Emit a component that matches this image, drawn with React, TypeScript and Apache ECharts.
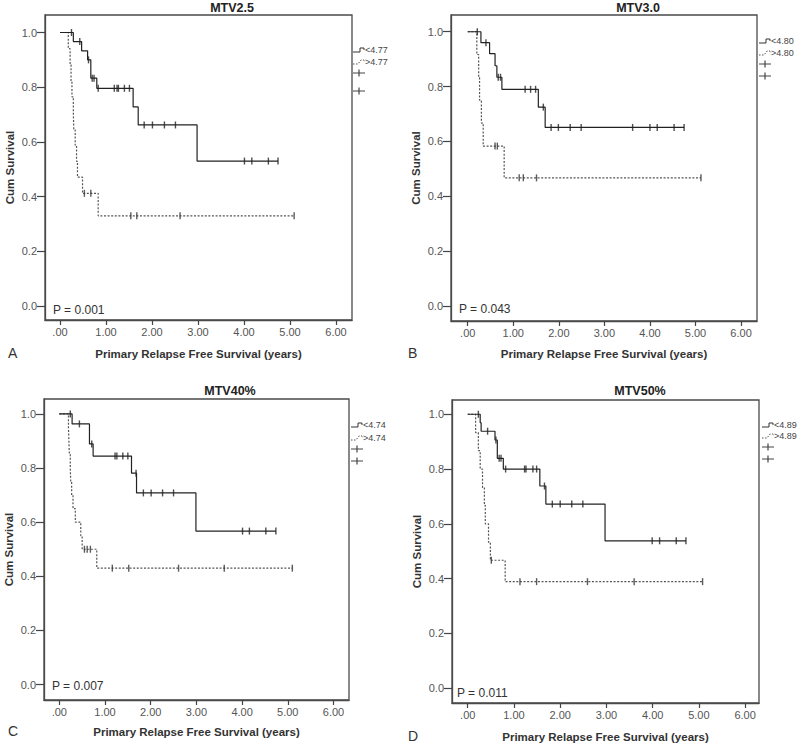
import React, { useEffect, useRef } from 'react';
import * as echarts from 'echarts';

// ---------- tick labels / texts ----------
const xTicks = [0, 1, 2, 3, 4, 5, 6];
const yTicks = [0, 0.2, 0.4, 0.6, 0.8, 1.0];
const panelTitles = ['MTV2.5', 'MTV3.0', 'MTV40%', 'MTV50%'];
const cutoffs = ['4.77', '4.80', '4.74', '4.89'];
const pValues = ['0.001', '0.043', '0.007', '0.011'];
const panelLetters = ['A', 'B', 'C', 'D'];
const xTitle = 'Primary Relapse Free Survival (years)';
const yTitle = 'Cum Survival';

// ---------- Panel A: MTV2.5 ----------
const aLowTimes = [0.29, 0.47, 0.60, 0.67, 0.80, 1.59, 1.70, 2.98];
const aLowSurv = [0.967, 0.933, 0.900, 0.833, 0.796, 0.728, 0.662, 0.530];
const aLowCens = [0.25, 0.43, 0.62, 0.70, 0.74, 0.83, 1.18, 1.24, 1.27, 1.40, 1.51, 1.83, 2.01, 2.27, 2.51, 4.01, 4.17, 4.53, 4.74];
const aHighTimes = [0.18, 0.22, 0.24, 0.26, 0.29, 0.30, 0.33, 0.36, 0.38, 0.49, 0.83];
const aHighSurv = [0.941, 0.882, 0.824, 0.765, 0.706, 0.647, 0.588, 0.529, 0.471, 0.412, 0.330];
const aHighCens = [0.53, 0.67, 1.54, 1.67, 2.61, 5.09];

// ---------- Panel B: MTV3.0 ----------
const bLowTimes = [0.29, 0.48, 0.60, 0.64, 0.75, 1.55, 1.70];
const bLowSurv = [0.960, 0.920, 0.876, 0.834, 0.790, 0.725, 0.651];
const bLowCens = [0.21, 0.40, 0.67, 0.72, 1.26, 1.38, 1.49, 1.66, 1.83, 1.99, 2.25, 2.49, 3.62, 4.00, 4.16, 4.53, 4.75];
const bHighTimes = [0.20, 0.24, 0.26, 0.30, 0.34, 0.80];
const bHighSurv = [0.917, 0.833, 0.750, 0.667, 0.583, 0.467];
const bHighCens = [0.60, 0.65, 1.13, 1.22, 1.51, 5.12];

// ---------- Panel C: MTV40% ----------
const cLowTimes = [0.28, 0.66, 0.74, 1.58, 1.69, 2.99];
const cLowSurv = [0.963, 0.889, 0.844, 0.781, 0.708, 0.567];
const cLowCens = [0.24, 0.44, 0.71, 1.22, 1.26, 1.39, 1.50, 1.68, 1.84, 2.01, 2.26, 2.50, 4.01, 4.16, 4.52, 4.74];
const cHighTimes = [0.20, 0.21, 0.22, 0.24, 0.25, 0.27, 0.30, 0.35, 0.47, 0.50, 0.82];
const cHighSurv = [0.95, 0.90, 0.85, 0.80, 0.75, 0.70, 0.65, 0.60, 0.55, 0.50, 0.43];
const cHighCens = [0.55, 0.61, 0.68, 1.16, 1.52, 2.61, 3.61, 5.10];

// ---------- Panel D: MTV50% ----------
const dLowTimes = [0.27, 0.29, 0.59, 0.64, 0.77, 1.56, 1.69, 2.97];
const dLowSurv = [0.969, 0.938, 0.906, 0.839, 0.800, 0.738, 0.672, 0.538];
const dLowCens = [0.23, 0.43, 0.61, 0.68, 0.72, 0.82, 1.23, 1.26, 1.41, 1.49, 1.66, 1.83, 2.00, 2.25, 2.49, 3.99, 4.15, 4.51, 4.72];
const dHighTimes = [0.17, 0.23, 0.27, 0.32, 0.36, 0.38, 0.45, 0.49, 0.81];
const dHighSurv = [0.933, 0.867, 0.800, 0.733, 0.667, 0.600, 0.533, 0.467, 0.389];
const dHighCens = [0.51, 1.13, 1.49, 2.59, 3.60, 5.08];

const lowGroups = [
  { times: aLowTimes, surv: aLowSurv, cens: aLowCens },
  { times: bLowTimes, surv: bLowSurv, cens: bLowCens },
  { times: cLowTimes, surv: cLowSurv, cens: cLowCens },
  { times: dLowTimes, surv: dLowSurv, cens: dLowCens },
];
const highGroups = [
  { times: aHighTimes, surv: aHighSurv, cens: aHighCens },
  { times: bHighTimes, surv: bHighSurv, cens: bHighCens },
  { times: cHighTimes, surv: cHighSurv, cens: cHighCens },
  { times: dHighTimes, surv: dHighSurv, cens: dHighCens },
];

// ---------- layout (positions only) ----------
const layout = [
  { left: 45, top: 15, width: 307, height: 305, xMin: -0.326, xMax: 6.348, yMin: -0.051, yMax: 1.064,
    titleX: 232, titleY: 1, legX: 353, legY: [50, 62, 73, 91], pX: 53, pY: 311, letX: 8, letY: 354, gap: 28 },
  { left: 451, top: 15, width: 306, height: 306, xMin: -0.367, xMax: 6.35, yMin: -0.055, yMax: 1.061,
    titleX: 638, titleY: 1, legX: 759, legY: [41, 53, 64, 76], pX: 459, pY: 310, letX: 408, letY: 354, gap: 27 },
  { left: 44, top: 399, width: 305, height: 301, xMin: -0.335, xMax: 6.34, yMin: -0.057, yMax: 1.055,
    titleX: 230, titleY: 384, legX: 351, legY: [425, 438, 449, 461], pX: 52, pY: 687, letX: 8, letY: 732, gap: 26 },
  { left: 452, top: 400, width: 307, height: 303, xMin: -0.34, xMax: 6.30, yMin: -0.054, yMax: 1.052,
    titleX: 640, titleY: 384, legX: 762, legY: [425, 436, 447, 459], pX: 457, pY: 694, letX: 408, letY: 737, gap: 28 },
];

const FONT = '"Liberation Sans", Arial, sans-serif';
const AXIS_COLOR = '#4a4a4a';

function survAt(times: number[], surv: number[], t: number) {
  let s = 1;
  for (let i = 0; i < times.length; i++) if (times[i] <= t) s = surv[i];
  return s;
}
function stepData(g: { times: number[]; surv: number[]; cens: number[] }) {
  const pts: number[][] = [[0, 1]];
  g.times.forEach((t, i) => pts.push([t, g.surv[i]]));
  const end = Math.max(...g.cens, ...g.times);
  pts.push([end, g.surv[g.surv.length - 1]]);
  return pts;
}
function censData(g: { times: number[]; surv: number[]; cens: number[] }) {
  return g.cens.map((t) => [t, survAt(g.times, g.surv, t)]);
}

function buildOption() {
  const grid: any[] = [];
  const xAxis: any[] = [];
  const yAxis: any[] = [];
  const series: any[] = [];
  const title: any[] = [];
  const graphic: any[] = [];

  layout.forEach((L, i) => {
    grid.push({ left: L.left, top: L.top, width: L.width, height: L.height, show: true,
      borderColor: AXIS_COLOR, borderWidth: 1.3, backgroundColor: 'transparent' });
    xAxis.push({
      type: 'value', gridIndex: i, min: L.xMin, max: L.xMax, position: 'bottom',
      axisLine: { show: true, onZero: false, lineStyle: { color: AXIS_COLOR, width: 1.3 } }, splitLine: { show: false },
      axisTick: { show: true, inside: false, customValues: xTicks, length: 5, lineStyle: { color: '#444', width: 1.2 } },
      axisLabel: { customValues: xTicks, margin: 6, fontSize: 11, color: '#555', fontFamily: FONT,
        formatter: (v: number) => (v === 0 ? '.00' : v.toFixed(2)) },
      name: xTitle, nameLocation: 'middle', nameGap: L.gap,
      nameTextStyle: { fontSize: 11.5, fontWeight: 'bold', color: '#333', fontFamily: FONT },
    });
    yAxis.push({
      type: 'value', gridIndex: i, min: L.yMin, max: L.yMax, position: 'left',
      axisLine: { show: true, onZero: false, lineStyle: { color: AXIS_COLOR, width: 1.3 } }, splitLine: { show: false },
      axisTick: { show: true, inside: false, customValues: yTicks, length: 8, lineStyle: { color: '#444', width: 1.2 } },
      axisLabel: { customValues: yTicks, margin: 8, fontSize: 11, color: '#555', fontFamily: FONT,
        formatter: (v: number) => v.toFixed(1) },
      name: yTitle, nameLocation: 'middle', nameGap: 29,
      nameTextStyle: { fontSize: 11.5, fontWeight: 'bold', color: '#333', fontFamily: FONT },
    });
    const low = lowGroups[i];
    const high = highGroups[i];
    series.push({
      type: 'line', name: '<' + cutoffs[i], xAxisIndex: i, yAxisIndex: i, step: 'end', symbol: 'none',
      data: stepData(low), lineStyle: { color: '#222', width: 1.2 }, z: 3,
    });
    series.push({
      type: 'line', name: '>' + cutoffs[i], xAxisIndex: i, yAxisIndex: i, step: 'end', symbol: 'none',
      data: stepData(high), lineStyle: { color: '#555', width: 1.2, type: [2, 1.6] }, z: 2,
    });
    series.push({
      type: 'scatter', name: '<' + cutoffs[i] + '-censored', xAxisIndex: i, yAxisIndex: i,
      symbol: 'rect', symbolSize: [1.4, 7], data: censData(low), itemStyle: { color: '#222' }, z: 4,
    });
    series.push({
      type: 'scatter', name: '>' + cutoffs[i] + '-censored', xAxisIndex: i, yAxisIndex: i,
      symbol: 'rect', symbolSize: [1.4, 7], data: censData(high), itemStyle: { color: '#333' }, z: 4,
    });

    title.push({ text: panelTitles[i], left: L.titleX, top: L.titleY, textAlign: 'center', padding: 0,
      textStyle: { fontSize: 12.5, fontWeight: 'bold', color: '#222', fontFamily: FONT } });

    // P value
    graphic.push({ type: 'text', left: L.pX, top: L.pY - 7,
      style: { text: 'P = ' + pValues[i], font: `12px ${FONT}`, fill: '#333' } });
    // panel letter
    graphic.push({ type: 'text', left: L.letX, top: L.letY - 8,
      style: { text: panelLetters[i], font: `14px ${FONT}`, fill: '#333' } });

    // legend
    const x0 = L.legX;
    const [y1, y2, y3, y4] = L.legY;
    graphic.push({ type: 'polyline', shape: { points: [[x0, y1 + 2], [x0 + 7, y1 + 2], [x0 + 7, y1 - 2], [x0 + 11, y1 - 2], [x0 + 11, y1]] },
      style: { stroke: '#333', lineWidth: 1, fill: null } });
    graphic.push({ type: 'text', left: x0 + 12, top: y1 - 5,
      style: { text: '<' + cutoffs[i], font: `9px ${FONT}`, fill: '#444' } });
    graphic.push({ type: 'polyline', shape: { points: [[x0, y2 + 2], [x0 + 5, y2 + 2], [x0 + 8, y2 - 2], [x0 + 11, y2 - 2], [x0 + 12, y2]] },
      style: { stroke: '#555', lineWidth: 1, lineDash: [1.5, 1.5], fill: null } });
    graphic.push({ type: 'text', left: x0 + 12, top: y2 - 5,
      style: { text: '>' + cutoffs[i], font: `9px ${FONT}`, fill: '#444' } });
    [y3, y4].forEach((yy) => {
      graphic.push({ type: 'line', shape: { x1: x0, y1: yy, x2: x0 + 12, y2: yy }, style: { stroke: '#444', lineWidth: 1 } });
      graphic.push({ type: 'line', shape: { x1: x0 + 6, y1: yy - 3.5, x2: x0 + 6, y2: yy + 3.5 }, style: { stroke: '#444', lineWidth: 1.2 } });
    });
  });

  return { animation: false, backgroundColor: '#fff', title, grid, xAxis, yAxis, series, graphic };
}

export default function App() {
  const ref = useRef<HTMLDivElement>(null);
  useEffect(() => {
    if (!ref.current) return;
    const chart = echarts.init(ref.current, undefined, { renderer: 'svg' });
    chart.setOption(buildOption() as any);
    return () => chart.dispose();
  }, []);
  return <div ref={ref} style={{ position: 'absolute', left: 0, top: 0, width: 800, height: 745 }} />;
}
